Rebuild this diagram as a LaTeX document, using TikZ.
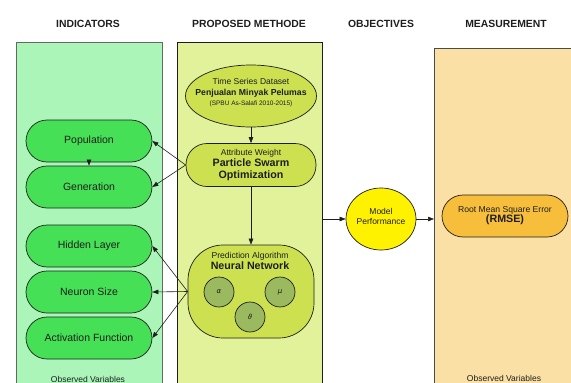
\documentclass[tikz,border=0pt]{standalone}
\usepackage{fontspec}
\setmainfont{Liberation Sans}
\newfontfamily\greekfont{DejaVu Sans}
\usetikzlibrary{arrows.meta,shapes.geometric}

\definecolor{indfill}{HTML}{ABF5B9}
\definecolor{indline}{HTML}{5F6B60}
\definecolor{pillgreen}{HTML}{45E055}
\definecolor{propfill}{HTML}{E2F29B}
\definecolor{olive}{HTML}{CDE150}
\definecolor{darkolive}{HTML}{9BB95F}
\definecolor{measfill}{HTML}{FAE0A5}
\definecolor{rmsefill}{HTML}{F6BE3A}
\definecolor{ink}{HTML}{1E1E1E}

\begin{document}
\begin{tikzpicture}[x=1pt,y=-1pt,
  every node/.style={text=ink},
  hdr/.style={font=\fontsize{10.4}{12}\selectfont\bfseries},
  panel/.style={anchor=north west, inner sep=0pt},
  pill/.style={draw=ink, line width=0.7pt, fill=pillgreen, rounded corners=21pt,
    minimum width=126pt, minimum height=42pt, inner sep=0pt,
    font=\fontsize{10.5}{12}\selectfont},
  small/.style={font=\fontsize{8.5}{10}\selectfont},
  arr/.style={draw=ink, line width=0.6pt, -{Triangle[length=6pt,width=4.5pt]}},
  greek/.style={circle, draw=ink, line width=0.7pt, fill=darkolive, minimum size=30pt,
    inner sep=0pt, font=\greekfont\itshape\fontsize{7}{8}\selectfont}
]
\useasboundingbox (0,0) rectangle (571,383);
\clip (0,0) rectangle (571,383);

% column headings
\node[hdr] (h1) at (88,24) {INDICATORS};
\node[hdr] (h2) at (249,24) {PROPOSED METHODE};
\node[hdr] (h3) at (381,24) {OBJECTIVES};
\node[hdr] (h4) at (506,24) {MEASUREMENT};

% column panels
\node[panel, draw=indline, line width=1.2pt, fill=indfill,
      minimum width=146pt, minimum height=360pt] (ind) at (16,42) {};
\node[panel, draw=ink, line width=0.8pt, fill=propfill,
      minimum width=145pt, minimum height=360pt] (prop) at (177,42) {};
\node[panel, draw=ink!80, line width=0.8pt, fill=measfill,
      minimum width=160pt, minimum height=360pt] (meas) at (434,48) {};

% indicator variables
\node[pill] (pop) at (89,141) {Population};
\node[pill] (gen) at (89,187) {Generation};
\node[pill] (hid) at (89,246) {Hidden Layer};
\node[pill] (neu) at (89,292) {Neuron Size};
\node[pill] (act) at (89,338) {Activation Function};
\node[small] (obs1) at (88,379.5) {Observed Variables};

% proposed method
\node[ellipse, draw=ink, line width=0.7pt, fill=olive, minimum width=131pt,
      minimum height=62pt, inner sep=0pt] (ts) at (251,96) {};
\node[align=center, inner sep=0pt] (tstext) at (251,92.5)
  {{\fontsize{8.5}{10}\selectfont Time Series Dataset}\\[-1pt]
   {\fontsize{8.7}{10}\selectfont\bfseries Penjualan Minyak Pelumas}\\[-1.5pt]
   {\fontsize{6.5}{8}\selectfont (SPBU As-Salafi 2010-2015)}};
\node[draw=ink, line width=0.7pt, fill=olive, rounded corners=21pt,
      minimum width=130pt, minimum height=43pt, inner sep=0pt, align=center] (pso) at (251,165)
  {{\fontsize{8.5}{10}\selectfont Attribute Weight}\\[-1pt]
   {\fontsize{10.7}{12}\selectfont\bfseries Particle Swarm}\\
   {\fontsize{10.7}{12}\selectfont\bfseries Optimization}};
\node[draw=ink, line width=0.7pt, fill=olive, rounded corners=35pt,
      minimum width=126pt, minimum height=93pt] (nn) at (251,291.5) {};
\node[align=center, inner sep=0pt] (nntitle) at (250,261)
  {{\fontsize{8.6}{10}\selectfont Prediction Algorithm}\\[-1pt]
   {\fontsize{10.7}{12}\selectfont\bfseries Neural Network}};
\node[greek] (alpha) at (219,292) {α};
\node[greek] (mu) at (280,292) {μ};
\node[greek] (theta) at (250,317) {ϑ};

% objective
\node[ellipse, draw=ink, line width=0.7pt, fill=yellow, minimum width=70pt,
      minimum height=62pt, inner sep=0pt] (mp) at (381,219) {};
\node[align=center, inner sep=0pt, small] (mptext) at (381,216) {Model\\Performance};

% measurement
\node[pill, fill=rmsefill, align=center, font=\fontsize{8.6}{10}\selectfont] (rmse) at (505,216)
  {Root Mean Square Error\\[0pt]{\fontsize{10.7}{12}\selectfont\bfseries (RMSE)}};
\node[small] (obs2) at (504,378) {Observed Variables};

% connectors
\draw[arr] (ts) -- (pso);
\draw[arr] (pso) -- (nn);
\draw[arr] (pop) -- (gen);
\draw[arr] (pso.west) -- (pop.east);
\draw[arr] (pso.west) -- (gen.east);
\draw[arr] (nn.west) -- (hid.east);
\draw[arr] (nn.west) -- (neu.east);
\draw[arr] (nn.west) -- (act.east);
\draw[arr] (prop.east |- mp.west) -- (mp.west);
\draw[arr] (mp.east) -- (meas.west |- mp.east);
\end{tikzpicture}
\end{document}
